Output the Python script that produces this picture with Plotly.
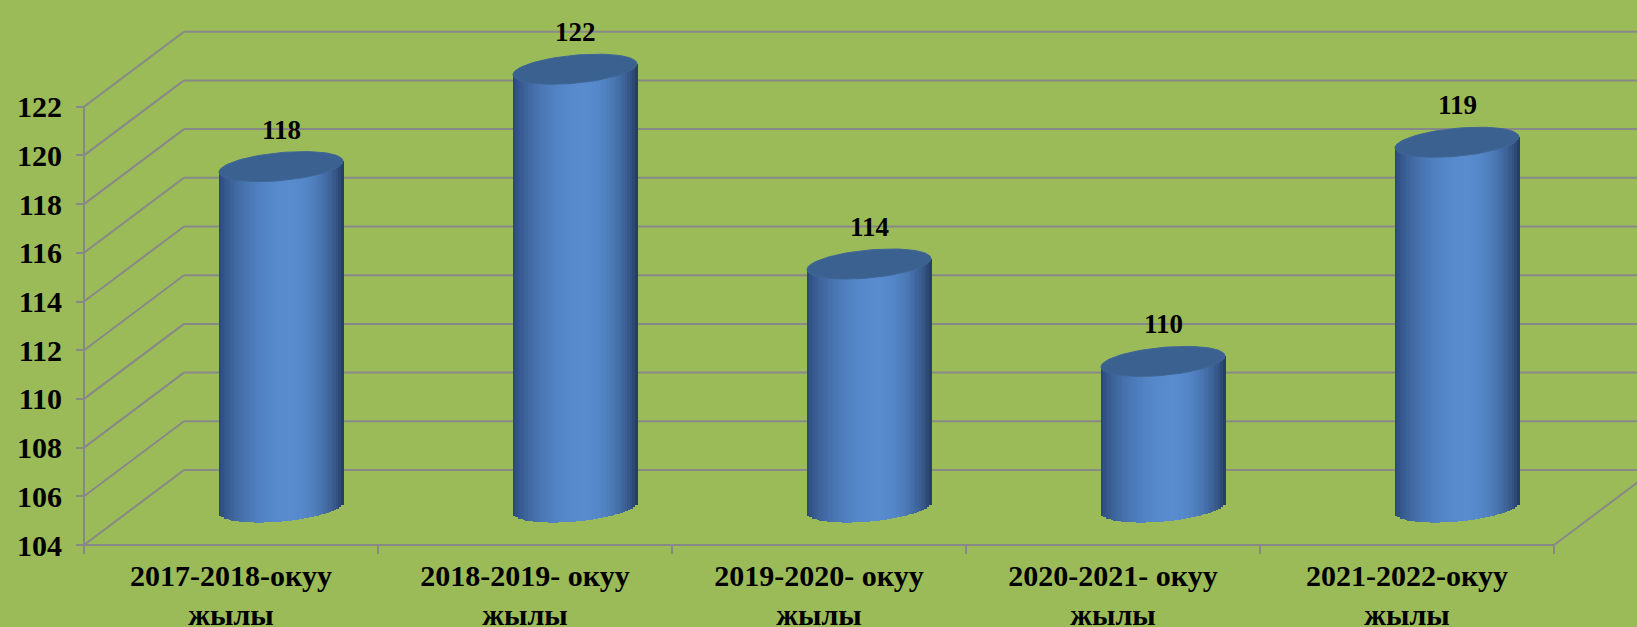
import numpy as np
import plotly.graph_objects as go

# ---------------- data ----------------
CATEGORY_LINE1 = ["2017-2018-окуу", "2018-2019- окуу", "2019-2020- окуу", "2020-2021- окуу", "2021-2022-окуу"]
CATEGORY_LINE2 = ["жылы", "жылы", "жылы", "жылы", "жылы"]
VALUES = [118, 122, 114, 110, 119]
Y_TICKS = [104, 106, 108, 110, 112, 114, 116, 118, 120, 122]
Y_BASE = 104

CATEGORIES = [f"{a}<br>{b}" for a, b in zip(CATEGORY_LINE1, CATEGORY_LINE2)]

# ---------------- layout geometry (pixels) ----------------
W, H = 1637, 627
AX_X = 84          # front vertical axis, px from left
FLOOR_Y = 545      # front floor line, px from top
PX_CAT = 294       # px per category
PX_UNIT = 24.35    # px per value unit
DEPTH_X_PX, DEPTH_Y_PX = 100, 75
CYL_HALF_W_PX, CYL_HALF_H_PX, CYL_TILT = 62, 14, 11 / 124

xmin = -0.5 - AX_X / PX_CAT
xmax = xmin + W / PX_CAT
ymin = Y_BASE - (H - FLOOR_Y) / PX_UNIT
ymax = ymin + H / PX_UNIT
DX = DEPTH_X_PX / PX_CAT
DY = DEPTH_Y_PX / PX_UNIT
A = CYL_HALF_W_PX / PX_CAT
B = CYL_HALF_H_PX / PX_UNIT

BG = "#9bbb59"
GRID = "#888888"
FONT = "Liberation Serif"


def shear(u):
    return CYL_TILT * (u * PX_CAT) / PX_UNIT


fig = go.Figure()

# ---------------- cylinder bodies as shaded strips ----------------
N = 50
w = 2 * A / N
dark_l = np.array([38, 66, 112])
dark_r = np.array([32, 53, 90])
light = np.array([88, 140, 207])
n = len(VALUES)
for k in range(N):
    t = (k + 0.5) / N
    u = -A + t * 2 * A
    if t < 0.57:
        s = np.sin(np.pi / 2 * t / 0.57) ** 0.6
    else:
        s = np.sin(np.pi / 2 * (1 - t) / 0.43) ** 0.65
    dark = dark_l * (1 - t) + dark_r * t
    c = dark * (1 - s) + light * s
    color = "rgb(%d,%d,%d)" % tuple(c.astype(int))
    bottom = Y_BASE + DY / 2 + shear(u) - B * np.sqrt(max(0.0, 1 - (u / A) ** 2))
    tops = [v + DY / 2 + shear(u) for v in VALUES]
    fig.add_trace(go.Bar(
        x=CATEGORIES,
        y=[tp - bottom for tp in tops],
        base=[bottom] * n,
        offset=DX / 2 + u - w / 2,
        width=w * 1.25,
        marker=dict(color=color, line=dict(width=0)),
        hoverinfo="skip",
        showlegend=False,
    ))

# ---------------- cylinder tops (ellipses) ----------------
th = np.linspace(0, 2 * np.pi, 90)
ex, ey = [], []
for i, v in enumerate(VALUES):
    cx = i + DX / 2
    cy = v + DY / 2
    ux = A * np.cos(th)
    ex += list(cx + ux) + [None]
    ey += list(cy + shear(ux) + B * np.sin(th)) + [None]
fig.add_trace(go.Scatter(
    x=ex, y=ey, mode="lines", fill="toself", fillcolor="#3b6191",
    line=dict(color="#3f6796", width=1), hoverinfo="skip", showlegend=False,
    xaxis="x2", yaxis="y",
))

# ---------------- value labels ----------------
for i, v in enumerate(VALUES):
    fig.add_annotation(
        x=i + DX / 2, xref="x2", y=v + DY / 2, yref="y",
        text=f"<b>{v}</b>", showarrow=False, yshift=37,
        font=dict(family=FONT, size=27, color="black"),
    )

# ---------------- walls / floor lines ----------------
shapes = []
line = dict(color=GRID, width=2)
for v in Y_TICKS:
    # back wall gridline
    shapes.append(dict(type="line", xref="x2", yref="y", x0=-0.5 + DX, x1=xmax + 1,
                       y0=v + DY, y1=v + DY, line=line, layer="below"))
    # side wall diagonal
    shapes.append(dict(type="line", xref="x2", yref="y", x0=-0.5, x1=-0.5 + DX,
                       y0=v, y1=v + DY, line=line, layer="below"))
# front vertical axis
shapes.append(dict(type="line", xref="x2", yref="y", x0=-0.5, x1=-0.5,
                   y0=Y_TICKS[0], y1=Y_TICKS[-1], line=line, layer="below"))
# front floor edge
shapes.append(dict(type="line", xref="x2", yref="y", x0=-0.5, x1=n - 0.5,
                   y0=Y_BASE, y1=Y_BASE, line=line, layer="below"))
# right floor edge
shapes.append(dict(type="line", xref="x2", yref="y", x0=n - 0.5, x1=n - 0.5 + DX,
                   y0=Y_BASE, y1=Y_BASE + DY, line=line, layer="below"))

fig.update_layout(
    width=W, height=H,
    margin=dict(l=0, r=0, t=0, b=0, autoexpand=False),
    paper_bgcolor=BG, plot_bgcolor=BG,
    barmode="overlay",
    bargap=0,
    shapes=shapes,
    xaxis=dict(
        type="category", range=[xmin, xmax], domain=[0, 1],
        anchor="free", position=(H - FLOOR_Y) / H, automargin=False,
        tickson="boundaries", ticks="outside", ticklen=8, tickwidth=2, tickcolor=GRID,
        showgrid=False, showline=False, zeroline=False,
        tickfont=dict(family=FONT, size=30, color="black", weight="bold"),
        ticklabelstandoff=10,
        fixedrange=True,
    ),
    xaxis2=dict(
        type="linear", range=[xmin, xmax], domain=[0, 1], overlaying="x",
        anchor="y", visible=False, fixedrange=True, automargin=False,
    ),
    yaxis=dict(
        range=[ymin, ymax], domain=[0, 1], automargin=False,
        anchor="free", position=AX_X / W, side="left",
        tickvals=Y_TICKS, ticks="outside", ticklen=8, tickwidth=2, tickcolor=GRID,
        showgrid=False, showline=False, zeroline=False,
        tickfont=dict(family=FONT, size=30, color="black", weight="bold"),
        ticklabelstandoff=8,
        fixedrange=True,
    ),
)

fig.write_html(
    "out.html",
    config={"displayModeBar": False},
    post_script="document.body.style.margin='0';document.body.style.background='%s';" % BG,
)
